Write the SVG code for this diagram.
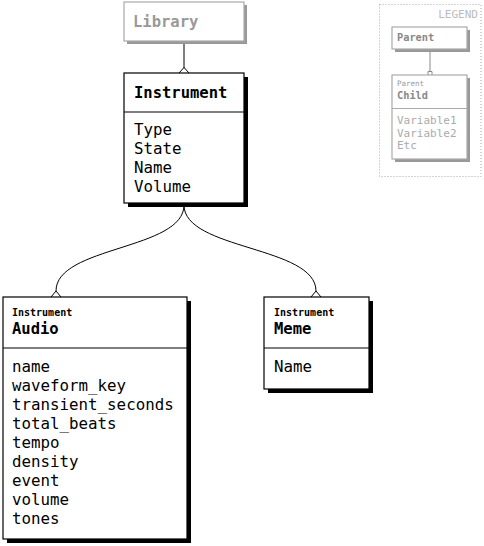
<svg xmlns="http://www.w3.org/2000/svg" width="484" height="546" viewBox="0 0 484 546">
<defs>
<style>
text{font-family:"DejaVu Sans Mono","Liberation Mono",monospace;}
.box{fill:#fff;stroke:#000;stroke-width:1.2;}
.sh{fill:#000;}
.gbox{fill:#fff;stroke:#aaa;stroke-width:1.2;}
.gsh{fill:#999;}
.title{font-size:15.5px;font-weight:bold;fill:#000;}
.sub{font-size:10px;font-weight:bold;fill:#000;}
.attr{font-size:15.8px;fill:#000;}
.div{stroke:#000;stroke-width:1.2;}
.conn{fill:none;stroke:#000;stroke-width:1;}
.lg{fill:none;stroke:#888;stroke-width:1;}
.lgt{font-size:10.3px;font-weight:bold;fill:#888;}
.lgs{font-size:7.5px;fill:#999;}
.lgv{font-size:11px;fill:#aaa;}
</style>
</defs>
<g id="connectors">
<path class="conn" d="M184,41 L184,68"/>
<path class="conn" d="M179,73 L184,67.5 L189,73"/>
<path class="conn" d="M184,205 C184,250 56,246 56,291"/>
<path class="conn" d="M51,297 L56,291 L61,297"/>
<path class="conn" d="M184,205 C184,250 316,246 316,291"/>
<path class="conn" d="M311,297 L316,291 L321,297"/>
</g>
<g id="library">
<rect class="gsh" x="127" y="5" width="120" height="39"/>
<rect class="gbox" x="124" y="2" width="120" height="39"/>
<text x="133" y="27" class="title" style="fill:#999">Library</text>
</g>
<g id="instrument">
<rect class="sh" x="128" y="77" width="120" height="130"/>
<rect class="box" x="124" y="73" width="120" height="130"/>
<text x="134" y="98" class="title">Instrument</text>
<line class="div" x1="124" y1="112" x2="244" y2="112"/>
<text class="attr" x="134" y="135">Type</text>
<text class="attr" x="134" y="154">State</text>
<text class="attr" x="134" y="173">Name</text>
<text class="attr" x="134" y="192">Volume</text>
</g>
<g id="audio">
<rect class="sh" x="7" y="301" width="184" height="242"/>
<rect class="box" x="3" y="297" width="184" height="242"/>
<text x="12" y="316" class="sub">Instrument</text>
<text x="12" y="334" class="title">Audio</text>
<line class="div" x1="3" y1="348" x2="187" y2="348"/>
<text class="attr" x="12" y="372">name</text>
<text class="attr" x="12" y="391">waveform_key</text>
<text class="attr" x="12" y="410">transient_seconds</text>
<text class="attr" x="12" y="429">total_beats</text>
<text class="attr" x="12" y="448">tempo</text>
<text class="attr" x="12" y="467">density</text>
<text class="attr" x="12" y="486">event</text>
<text class="attr" x="12" y="505">volume</text>
<text class="attr" x="12" y="524">tones</text>
</g>
<g id="meme">
<rect class="sh" x="268" y="301" width="105" height="92"/>
<rect class="box" x="264" y="297" width="105" height="92"/>
<text x="274" y="316" class="sub">Instrument</text>
<text x="274" y="334" class="title">Meme</text>
<line class="div" x1="264" y1="348" x2="369" y2="348"/>
<text class="attr" x="274" y="372">Name</text>
</g>
<g id="legend">
<rect x="379.5" y="4.5" width="101.5" height="172" fill="none" stroke="#aaa" stroke-width="1" stroke-dasharray="1,2"/>
<text x="478" y="17.5" text-anchor="end" style="font-size:11px;fill:#bbb;">LEGEND</text>
<rect class="gsh" x="395" y="30" width="75" height="22"/>
<rect class="gbox" x="392" y="27" width="75" height="22"/>
<text x="397" y="41" class="lgt">Parent</text>
<path class="lg" d="M430,52 L430,71.5"/>
<path class="lg" d="M428,75 L428,71.5 L432,71.5 L432,75"/>
<rect class="gsh" x="395" y="78" width="75" height="84"/>
<rect class="gbox" x="392" y="75" width="75" height="84"/>
<text x="397" y="86" class="lgs">Parent</text>
<text x="397" y="99" class="lgt">Child</text>
<line x1="392" y1="108.5" x2="467" y2="108.5" stroke="#aaa" stroke-width="1"/>
<text x="397" y="124" class="lgv">Variable1</text>
<text x="397" y="136.5" class="lgv">Variable2</text>
<text x="397" y="149" class="lgv">Etc</text>
</g>
</svg>
